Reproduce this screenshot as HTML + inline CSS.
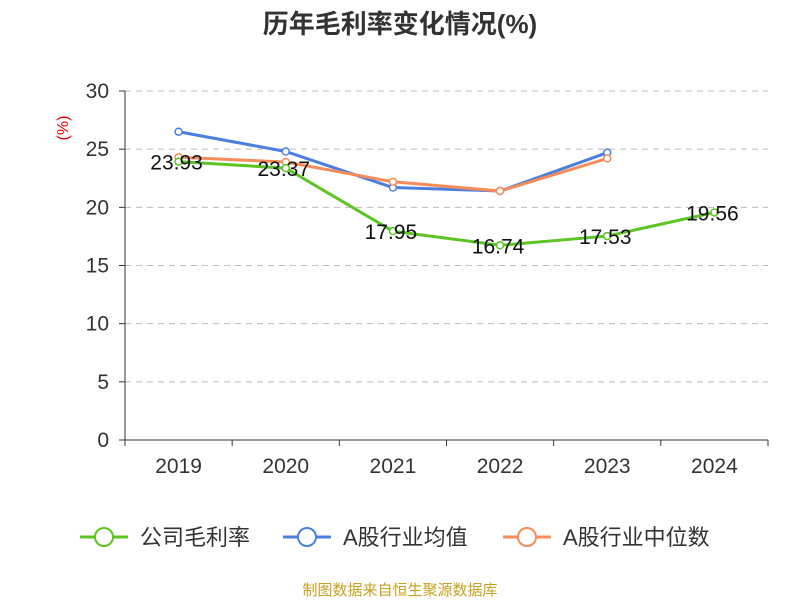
<!DOCTYPE html>
<html><head><meta charset="utf-8"><style>
body{margin:0;background:#fff;}
svg text{font-family:"Liberation Sans","Noto Sans CJK SC",sans-serif;}
</style></head><body>
<svg id="chart" width="800" height="600">
<text x="400" y="33" text-anchor="middle" font-size="26" font-weight="bold" fill="#333">历年毛利率变化情况(%)</text>
<text x="68" y="128" font-size="16" fill="#e00" transform="rotate(-90 68 128)" text-anchor="middle">(%)</text>
<g id="grid"></g><g id="axes"></g><g id="series"></g>
<g id="legend"></g>
<text x="400" y="595" text-anchor="middle" font-size="15" fill="#c8a020">制图数据来自恒生聚源数据库</text>
</svg>
<script>
const categories=["2019","2020","2021","2022","2023","2024"];
const companyValues=[23.93,23.37,17.95,16.74,17.53,19.56];
const industryAvg=[26.5,24.8,21.7,21.4,24.7,null];
const industryMedian=[24.3,23.9,22.2,21.4,24.2,null];
const yTicks=[0,5,10,15,20,25,30];
const NS="http://www.w3.org/2000/svg";
const x0=125,x1=768,yB=440,yT=91,yMax=30;
const band=(x1-x0)/categories.length;
const X=i=>x0+band*(i+0.5);
const Y=v=>yB-(v/yMax)*(yB-yT);
function mk(t,a,p){const e=document.createElementNS(NS,t);for(const k in a)e.setAttribute(k,a[k]);p.appendChild(e);return e;}
const grid=document.getElementById('grid'),axes=document.getElementById('axes'),ser=document.getElementById('series'),leg=document.getElementById('legend');
yTicks.forEach(t=>{
 if(t>0){const g=mk('line',{x1:x0,x2:x1,y1:Y(t),y2:Y(t),stroke:'#bbb','stroke-dasharray':'6,5'},grid);
 }
 mk('line',{x1:x0-6,x2:x0,y1:Y(t),y2:Y(t),stroke:'#333'},axes);
 const lb=mk('text',{x:x0-16,y:Y(t)+7,'text-anchor':'end','font-size':21,fill:'#333'},axes);lb.textContent=t;
 
});
mk('line',{x1:x0,x2:x0,y1:yT,y2:yB,stroke:'#333'},axes);
mk('line',{x1:x0,x2:x1,y1:yB,y2:yB,stroke:'#333'},axes);
for(let i=0;i<=categories.length;i++)mk('line',{x1:x0+band*i,x2:x0+band*i,y1:yB,y2:yB+6,stroke:'#333'},axes);
categories.forEach((c,i)=>{const t=mk('text',{x:X(i),y:473,'text-anchor':'middle','font-size':21,fill:'#333'},axes);t.textContent=c;
 });
function series(vals,color,name,labels){
 const pts=vals.map((v,i)=>v==null?null:[X(i),Y(v)]).filter(p=>p);
 const p=mk('polyline',{points:pts.map(p=>p.join(',')).join(' '),fill:'none',stroke:color,'stroke-width':3},ser);
 
 vals.forEach((v,i)=>{if(v==null)return;
  const c=mk('circle',{cx:X(i),cy:Y(v),r:3.5,fill:'#fff',stroke:color,'stroke-width':1.5},ser);
  
  if(labels){const t=mk('text',{x:X(i)-2,y:Y(v)+8,'text-anchor':'middle','font-size':21,fill:'#111'},ser);t.textContent=v.toFixed(2);
   }
 });
}
series(industryAvg,'#4a7fe0','industry-average',false);
series(industryMedian,'#f58c5a','industry-median',false);
series(companyValues,'#5cc423','company',true);
[["公司毛利率",'#5cc423',80],["A股行业均值",'#4a7fe0',283],["A股行业中位数",'#f58c5a',503]].forEach(([n,c,x],k)=>{
 const g=mk('g',{},leg);
 mk('line',{x1:x,x2:x+48,y1:537,y2:537,stroke:c,'stroke-width':3},g);
 mk('circle',{cx:x+24,cy:537,r:9,fill:'#fff',stroke:c,'stroke-width':2},g);
 const t=mk('text',{x:x+60,y:545,'font-size':22,fill:'#333'},g);t.textContent=n;
});
</script>
</body></html>
